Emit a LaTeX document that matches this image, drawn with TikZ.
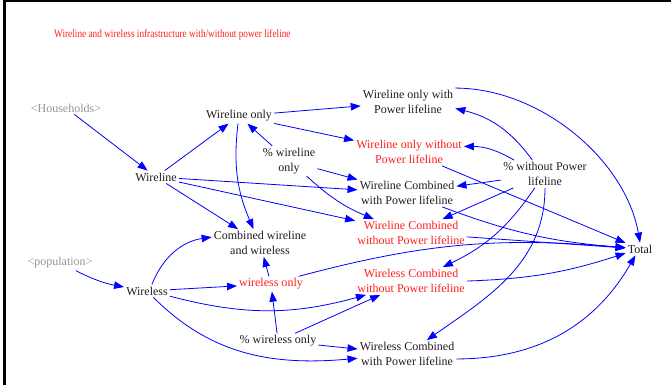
\documentclass[tikz,border=0pt]{standalone}
\usepackage{fontspec}
\setmainfont{Liberation Serif}
\newfontfamily\titlefont[FakeStretch=0.82]{Liberation Serif}
\usetikzlibrary{arrows.meta}
\definecolor{lnblue}{RGB}{0,0,255}
\definecolor{txtred}{RGB}{255,30,30}
\definecolor{txtgray}{RGB}{150,150,150}
\definecolor{txtblack}{RGB}{30,30,30}
\begin{document}
\begin{tikzpicture}[x=1pt,y=1pt,
  lbl/.style={font=\fontsize{12}{15}\selectfont, align=center, inner sep=2pt, text=txtblack},
  redlbl/.style={lbl, text=txtred},
  graylbl/.style={lbl, text=txtgray},
  conn/.style={draw=lnblue, line width=0.8pt, -{Triangle[length=10pt,width=7.5pt]}}]
\useasboundingbox (0,0) rectangle (671,385);
\draw[line width=2.5pt] (4.3,0) -- (4.3,383.8) -- (671,383.8);

\node[anchor=west, inner sep=0pt, text=txtred, font=\titlefont\fontsize{11.3}{13}\selectfont] (title) at (54,350) {Wireline and wireless infrastructure with/without power lifeline};

\node[graylbl] (hh) at (66,277) {<Households>};
\node[lbl] (wlonly) at (239,269) {Wireline only};
\node[lbl] (pwl) at (289,224) {\% wireline\\only};
\node[lbl] (wl) at (156,208) {Wireline};
\node[lbl] (wlwith) at (408,283) {Wireline only with\\Power lifeline};
\node[redlbl] (wlwithout) at (409,233) {Wireline only without\\Power lifeline};
\node[lbl] (pwo) at (545,211) {\% without Power\\lifeline};
\node[lbl] (wlcw) at (407,192) {Wireline Combined\\with Power lifeline};
\node[redlbl] (wlcwo) at (411,152) {Wireline Combined\\without Power lifeline};
\node[redlbl] (wscwo) at (411,104) {Wireless Combined\\without Power lifeline};
\node[lbl] (wscw) at (407,31) {Wireless Combined\\with Power lifeline};
\node[lbl] (total) at (640,136) {Total};
\node[lbl] (comb) at (260,142) {Combined wireline\\and wireless};
\node[graylbl] (pop) at (60,122) {<population>};
\node[lbl] (ws) at (147,94) {Wireless};
\node[redlbl] (wso) at (271,101) {wireless only};
\node[lbl] (pws) at (278,44) {\% wireless only};

% wireline side
\draw[conn] (hh) -- (wl);
\draw[conn] (wl) -- (wlonly);
\draw[conn] (wlonly) -- (wlwith);
\draw[conn] (wlonly) -- (wlwithout);
\draw[conn] (pwl) -- (wlonly);
\draw[conn] (wlonly) to[bend right=15] (comb.115);
\draw[conn] (wl) -- (comb);
\draw[conn] (wl) -- (wlcw);
\draw[conn] (wl) -- (wlcwo);
\draw[conn] (pwl) -- (wlcw);
\draw[conn] (pwl) to[bend right=10] (wlcwo);

% wireless side
\draw[conn] (pop) to[bend right=8] (ws);
\draw[conn] (ws) -- (wso);
\draw[conn] (ws) to[bend left=30] (comb);
\draw[conn] (wso) -- (comb);
\draw[conn] (pws) -- (wso);
\draw[conn] (ws) to[bend right=15] (wscwo);
\draw[conn] (pws) -- (wscwo);
\draw[conn] (pws) -- (wscw);
\draw[conn] (ws) to[out=-45, in=185] (wscw);

% power lifeline
\draw[conn] (pwo) to[bend right=20] (wlwith);
\draw[conn] (pwo) to[bend right=15] (wlwithout);
\draw[conn] (pwo) -- (wlcw);
\draw[conn] (pwo) -- (wlcwo);
\draw[conn] (pwo) to[bend left=15] (wscwo);
\draw[conn] (pwo.south) to[out=-90, in=35] (wscw);

% totals
\draw[conn] (wlwith.north east) to[out=0, in=100, looseness=0.9] (total.north);
\draw[conn] (wlwithout) -- (total);
\draw[conn] (wlcw) to[bend right=8] (total);
\draw[conn] (wlcwo) -- (total);
\draw[conn] (wso) to[bend left=10] (total);
\draw[conn] (wscwo) to[bend right=8] (total);
\draw[conn] (wscw) to[bend right=30] (total);
\end{tikzpicture}
\end{document}
